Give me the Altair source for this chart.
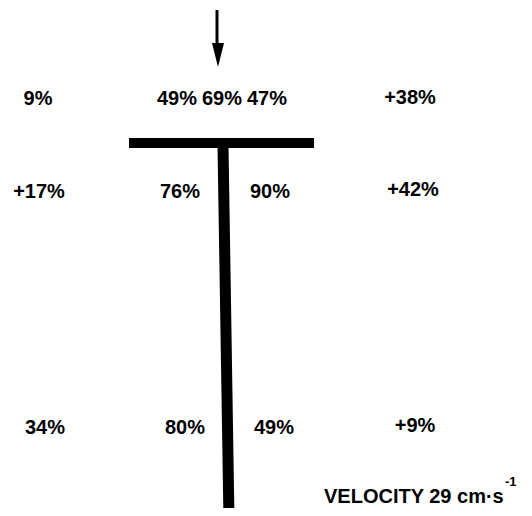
import altair as alt
import pandas as pd

# Percentage labels around the T-shaped obstacle (diagram coordinates, y down)
labels = ["9%", "49%", "69%", "47%", "+38%",
          "+17%", "76%", "90%", "+42%",
          "34%", "80%", "49%", "+9%"]
label_x = [38, 177, 222, 267, 410,
           39, 180, 270, 413,
           45, 185, 274, 415]
label_y = [105, 105, 105, 105, 104,
           198, 198, 198, 196,
           434, 434, 434, 432]

# T obstacle: crossbar and stem
bar_x = [129]; bar_x2 = [314]; bar_y = [138]; bar_y2 = [148]
stem_x = [223]; stem_x2 = [229]; stem_y = [146]; stem_y2 = [520]

# flow arrow
arrow_x = [217]; arrow_y = [10]; arrow_y2 = [46]
head_x = [218]; head_y = [55]

# velocity caption
caption = ["VELOCITY 29 cm·s"]; cap_x = [324]; cap_y = [503]
sup = ["-1"]; sup_x = [505]; sup_y = [486]

W, H = 516, 500
xs = alt.Scale(domain=[8, 8 + W], nice=False, zero=False)
ys = alt.Scale(domain=[8, 8 + H], nice=False, zero=False, reverse=True)

def X(f, **kw):
    return alt.X(f, type="quantitative", scale=xs, axis=None, **kw)

def Y(f, **kw):
    return alt.Y(f, type="quantitative", scale=ys, axis=None, **kw)

lab_df = pd.DataFrame({"t": labels, "x": label_x, "y": label_y})
texts = alt.Chart(lab_df).mark_text(
    font="Liberation Sans", fontWeight="bold", fontSize=20,
    align="center", baseline="alphabetic", color="black"
).encode(x=X("x"), y=Y("y"), text="t:N")

bar = alt.Chart(pd.DataFrame({"x": bar_x, "x2": bar_x2, "y": bar_y, "y2": bar_y2})).mark_rect(
    color="black").encode(x=X("x"), x2="x2", y=Y("y"), y2="y2")

stem = alt.Chart(pd.DataFrame({"x": stem_x, "x2": stem_x2, "y": stem_y, "y2": stem_y2})).mark_rule(
    color="black", strokeWidth=11, strokeCap="butt").encode(x=X("x"), x2="x2", y=Y("y"), y2="y2")

shaft = alt.Chart(pd.DataFrame({"x": arrow_x, "y": arrow_y, "y2": arrow_y2})).mark_rule(
    color="black", strokeWidth=3, strokeCap="butt").encode(x=X("x"), y=Y("y"), y2="y2")

head = alt.Chart(pd.DataFrame({"x": head_x, "y": head_y})).mark_point(
    shape="M-0.5,-1L0.5,-1L0,1Z", size=576, filled=True, color="black",
    opacity=1, strokeWidth=0).encode(x=X("x"), y=Y("y"))

cap = alt.Chart(pd.DataFrame({"t": caption, "x": cap_x, "y": cap_y})).mark_text(
    font="Liberation Sans", fontWeight="bold", fontSize=20,
    align="left", baseline="alphabetic", color="black"
).encode(x=X("x"), y=Y("y"), text="t:N")

supt = alt.Chart(pd.DataFrame({"t": sup, "x": sup_x, "y": sup_y})).mark_text(
    font="Liberation Sans", fontWeight="bold", fontSize=13,
    align="left", baseline="alphabetic", color="black"
).encode(x=X("x"), y=Y("y"), text="t:N")

chart = alt.layer(bar, stem, shaft, head, texts, cap, supt).properties(
    width=W, height=H, padding=0, background="white",
    autosize=alt.AutoSizeParams(type="none")
).configure_view(stroke=None, clip=False)

chart.save("out.html", embed_options={"renderer": "svg", "actions": False})
